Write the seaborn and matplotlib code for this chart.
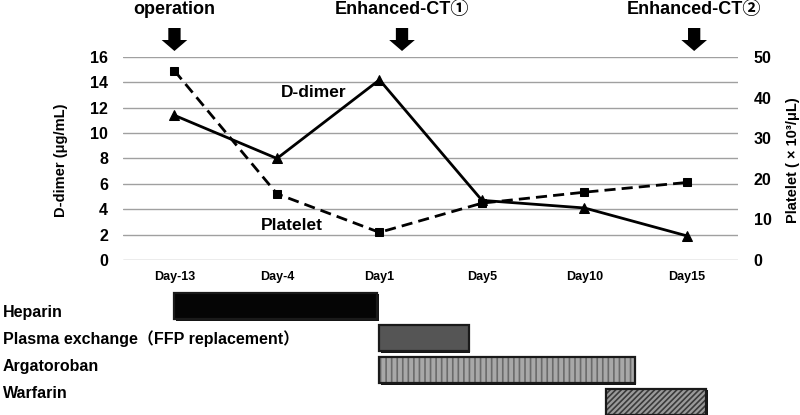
import numpy as np
import pandas as pd
import matplotlib
matplotlib.use("Agg")
import matplotlib.pyplot as plt
import matplotlib.transforms as mtransforms
from matplotlib.patches import FancyArrow
import seaborn as sns

# ---- data ----
days = ["Day-13", "Day-4", "Day1", "Day5", "Day10", "Day15"]
ddimer = [11.4, 8.0, 14.2, 4.7, 4.1, 1.9]          # ug/mL
platelet = [46.6, 16.3, 6.8, 14.0, 16.7, 19.1]     # x10^3/uL

events = ["operation", "Enhanced-CT①", "Enhanced-CT②"]
event_pos = [0.0, 2.22, 5.07]                       # in day-category units

drugs = ["Heparin", "Plasma exchange（FFP replacement）", "Argatoroban", "Warfarin"]
drug_start = [0.0, 2.0, 2.0, 4.21]
drug_end = [1.98, 2.87, 4.49, 5.19]

# ---- style ----
sns.set_style("white")
plt.rcParams["font.family"] = ["Liberation Sans", "Noto Sans CJK JP", "DejaVu Sans"]
plt.rcParams["font.weight"] = "bold"
for k in ["text.color", "axes.labelcolor", "xtick.color", "ytick.color"]:
    plt.rcParams[k] = "black"

fig = plt.figure(figsize=(8, 4.15), dpi=100)
ax = fig.add_axes([0.154, 0.3735, 0.7688, 0.4892])
ax2 = ax.twinx()

x = np.arange(len(days))
df = pd.DataFrame({"x": x, "ddimer": ddimer, "platelet": platelet})

sns.lineplot(data=df, x="x", y="ddimer", ax=ax, color="black", lw=2,
             marker="^", markersize=7, markeredgecolor="black")
sns.lineplot(data=df, x="x", y="platelet", ax=ax2, color="black", lw=2,
             linestyle=(0, (4, 2.2)), marker="s", markersize=6, markeredgecolor="black")

ax.set_xlim(-0.5, len(days) - 0.5)
ax.set_ylim(0, 16)
ax.set_yticks(np.arange(0, 17, 2))
ax2.set_ylim(0, 50)
ax2.set_yticks(np.arange(0, 51, 10))
ax.set_xticks(x)
ax.set_xticklabels(days, fontsize=9, fontweight="bold")
ax.tick_params(axis="x", length=0, pad=8)
ax.tick_params(axis="y", length=0, pad=11, labelsize=11.5)
ax2.tick_params(axis="y", length=0, pad=11, labelsize=11.5)
ax.yaxis.grid(True, color="#a0a0a0", lw=1)
ax.set_axisbelow(True)
for a in (ax, ax2):
    for s in a.spines.values():
        s.set_visible(False)

ax.set_xlabel("")
ax.set_ylabel("D-dimer (μg/mL)", fontsize=10.5, fontweight="bold")
ax2.set_ylabel("Platelet ( × 10³/μL)", fontsize=10.5, fontweight="bold")
ax.yaxis.set_label_coords(-0.089, 0.49)
ax2.yaxis.set_label_coords(1.078, 0.49)

ax.text(1.68, 13.2, "D-dimer", fontsize=12.5, fontweight="bold", ha="right", va="center")
ax.text(1.15, 2.75, "Platelet", fontsize=12.5, fontweight="bold", ha="center", va="center")

# ---- event arrows ----
trans = mtransforms.blended_transform_factory(ax.transData, fig.transFigure)
for name, p in zip(events, event_pos):
    t = fig.text(0, 0, name, transform=trans, fontsize=13, fontweight="bold",
                 ha="center", va="center")
    t.set_position((p, 1 - 10 / 415))
    arr = FancyArrow(p, 1 - 28 / 415, 0, -12 / 415, width=0.12,
                     head_width=0.25, head_length=11 / 415,
                     color="black", lw=0, transform=trans)
    fig.add_artist(arr)

# ---- treatment bars ----
gx = fig.add_axes([0.154, -0.008, 0.7688, 0.31])
gx.set_xlim(ax.get_xlim())
gx.set_ylim(3.5, -0.5)
gx.axis("off")
faces = ["#050505", "#555555", "#a8a8a8", "#9a9a9a"]
hatches = [None, None, "|||", "//////"]
hatch_cols = [None, None, "#6a6a6a", "#3a3a3a"]
rows = np.arange(len(drugs))
for i, (s, e) in enumerate(zip(drug_start, drug_end)):
    w = e - s
    # shadow for a bevelled look
    gx.barh(rows[i] + 0.05, w, left=s + 0.012, height=0.84, color="#151515", lw=0)
    if hatches[i]:
        plt.rcParams["hatch.color"] = hatch_cols[i]
        plt.rcParams["hatch.linewidth"] = 1.2
        gx.barh(rows[i], w, left=s, height=0.8, color=faces[i],
                edgecolor=hatch_cols[i], lw=0, hatch=hatches[i])
    else:
        gx.barh(rows[i], w, left=s, height=0.8, color=faces[i], lw=0)
    gx.barh(rows[i], w, left=s, height=0.8, fill=False,
            edgecolor="#1a1a1a", lw=1.6)

for i, name in enumerate(drugs):
    fig.text(3 / 800, 1 - (312 + 27 * i) / 415, name, fontsize=11.5,
             fontweight="bold", ha="left", va="center")

fig.savefig("out.png", dpi=100)
